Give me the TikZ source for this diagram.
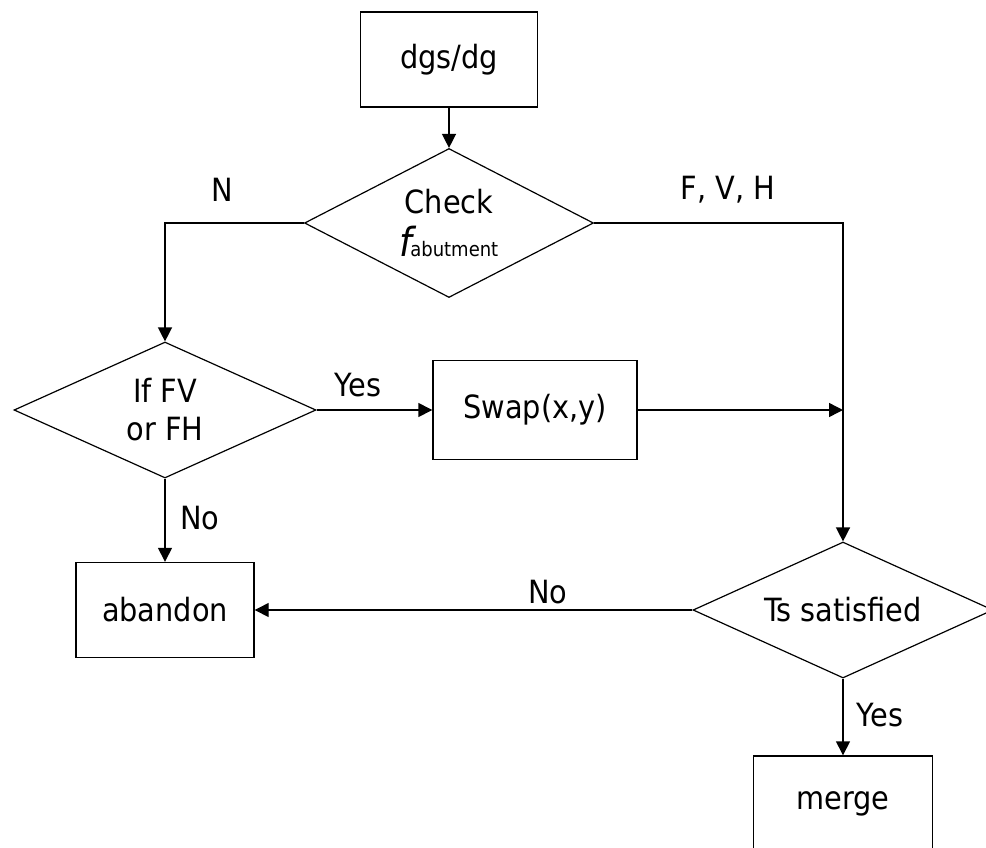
\documentclass[tikz,border=0pt]{standalone}
\usepackage{fontspec}
\setmainfont{DejaVu Sans Condensed}
\usetikzlibrary{shapes.geometric,arrows.meta}
\begin{document}
\begin{tikzpicture}[x=1pt,y=-1pt,
  every node/.style={font=\fontsize{32}{38}\selectfont, inner sep=0pt},
  procbox/.style={draw, line width=1.4pt, minimum width=#1, minimum height=95pt},
  decision/.style={draw, diamond, line width=1.2pt, aspect=2.2, align=center},
  flow/.style={line width=1.4pt, -{Triangle[length=14pt,width=14pt]}},
  lbl/.style={}]
  \useasboundingbox (0,0) rectangle (986,847);

  % process boxes
  \node[procbox=177pt] (start)   at (449,59.5) {dgs/dg};
  \node[procbox=204pt, minimum height=99pt] (swap) at (535,410) {Swap(x,y)};
  \node[procbox=178pt] (abandon) at (165,610) {abandon};
  \node[procbox=179pt] (merge)   at (843,803.5) {merge};

  % decisions
  \node[decision, minimum width=289pt, minimum height=149pt,
        font=\fontsize{32}{45}\selectfont] (check) at (449,223)
        {Check\\[-2pt]{\fontsize{40}{40}\selectfont\itshape f}\kern-2pt{\fontsize{20}{20}\selectfont abutment}};
  \node[decision, minimum width=302pt, minimum height=136pt] (iffv) at (165,410) {If FV\\or FH};
  \node[decision, minimum width=300pt, minimum height=136pt] (ts) at (843,610) {Ts satisfied};

  \coordinate (join) at (ts.north |- swap.east);

  % connectors
  \draw[flow] (start.south) -- (check.north);
  \draw[flow] (check.west) -| (iffv.north);
  \draw[flow] (check.east) -| (ts.north);
  \draw[flow] (iffv.east) -- (swap.west);
  \draw[flow] (swap.east) -- (join);
  \draw[flow] (iffv.south) -- (abandon.north);
  \draw[flow] (ts.west) -- (abandon.east);
  \draw[flow] (ts.south) -- (merge.north);

  % branch labels
  \node[lbl] (lN)   at (222,190) {N};
  \node[lbl] (lFVH) at (728,190) {F, V, H};
  \node[lbl] (lY1)  at (358,385) {Yes};
  \node[lbl] (lN1)  at (200,518) {No};
  \node[lbl] (lN2)  at (548,592) {No};
  \node[lbl] (lY2)  at (880,715) {Yes};
\end{tikzpicture}
\end{document}
